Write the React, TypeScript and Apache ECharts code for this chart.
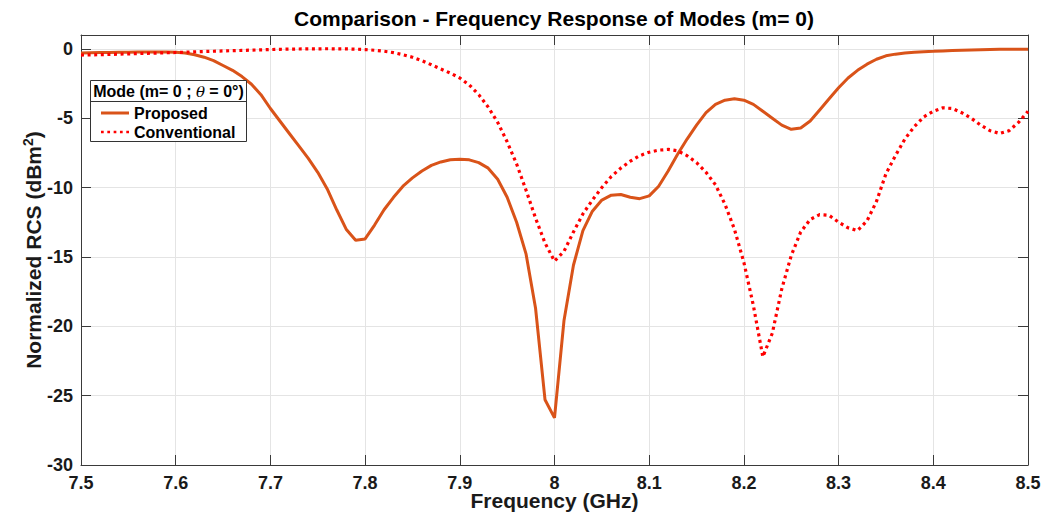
import React, { useEffect, useRef } from "react";
import * as echarts from "echarts";

const freq = [
  7.5, 7.51, 7.52, 7.53, 7.54, 7.55, 7.56, 7.57, 7.58, 7.59,
  7.6, 7.61, 7.62, 7.63, 7.64, 7.65, 7.66, 7.67, 7.68, 7.69,
  7.7, 7.71, 7.72, 7.73, 7.74, 7.75, 7.76, 7.77, 7.78, 7.79,
  7.8, 7.81, 7.82, 7.83, 7.84, 7.85, 7.86, 7.87, 7.88, 7.89,
  7.9, 7.91, 7.92, 7.93, 7.94, 7.95, 7.96, 7.97, 7.98, 7.99,
  8.0, 8.01, 8.02, 8.03, 8.04, 8.05, 8.06, 8.07, 8.08, 8.09,
  8.1, 8.11, 8.12, 8.13, 8.14, 8.15, 8.16, 8.17, 8.18, 8.19,
  8.2, 8.21, 8.22, 8.23, 8.24, 8.25, 8.26, 8.27, 8.28, 8.29,
  8.3, 8.31, 8.32, 8.33, 8.34, 8.35, 8.36, 8.37, 8.38, 8.39,
  8.4, 8.41, 8.42, 8.43, 8.44, 8.45, 8.46, 8.47, 8.48, 8.49,
  8.5,
];

const proposed = [
  -0.3, -0.28, -0.27, -0.26, -0.25, -0.24, -0.23, -0.22, -0.22, -0.22,
  -0.24, -0.3, -0.42, -0.6, -0.85, -1.2, -1.55, -2.0, -2.55, -3.3,
  -4.3, -5.2, -6.1, -7.0, -7.9, -8.9, -10.1, -11.6, -13.0, -13.8,
  -13.7, -12.7, -11.6, -10.7, -9.9, -9.3, -8.8, -8.4, -8.15, -8.0,
  -7.95, -8.0, -8.2, -8.6, -9.4, -10.7, -12.5, -14.8, -18.7, -25.3,
  -26.6, -19.6, -15.6, -13.1, -11.7, -10.9, -10.55, -10.5, -10.7, -10.8,
  -10.6, -9.9, -8.8, -7.6, -6.5, -5.5, -4.6, -4.0, -3.7, -3.6,
  -3.7, -4.0, -4.5, -5.0, -5.5, -5.8, -5.7, -5.2, -4.4, -3.6,
  -2.8, -2.1, -1.55, -1.1, -0.75, -0.5, -0.38, -0.3, -0.25, -0.2,
  -0.18, -0.15, -0.12, -0.1, -0.08, -0.06, -0.04, -0.03, -0.02, -0.02,
  -0.02,
];

const conventional = [
  -0.45, -0.43, -0.42, -0.4, -0.38, -0.36, -0.34, -0.32, -0.3, -0.28,
  -0.26, -0.24, -0.21, -0.19, -0.17, -0.15, -0.13, -0.11, -0.09, -0.07,
  -0.05, -0.03, -0.02, -0.01, 0, 0, 0.01, 0, 0, -0.02,
  -0.05, -0.1, -0.17, -0.27, -0.42, -0.6, -0.85, -1.15, -1.45, -1.75,
  -2.1, -2.6, -3.3, -4.2, -5.3, -6.7, -8.3, -10.2, -12.2, -14.0,
  -15.3, -14.6, -13.2, -11.9, -10.9, -10.0, -9.2, -8.6, -8.1, -7.7,
  -7.45, -7.3, -7.25, -7.35, -7.7, -8.2, -8.9, -9.8, -11.2, -13.0,
  -15.4, -18.5, -22.2, -20.5, -17.3, -14.9, -13.2, -12.3, -11.95, -12.0,
  -12.5, -12.9, -13.1, -12.4, -11.0, -9.0, -7.7, -6.5, -5.6, -4.9,
  -4.5, -4.25, -4.3, -4.6, -5.0, -5.5, -5.9, -6.1, -5.9, -5.3,
  -4.5,
];

const seriesNames = ["Proposed", "Conventional"];
const titleText = "Comparison - Frequency Response of Modes (m= 0)";
const xName = "Frequency (GHz)";

const FONT = "'Liberation Sans', Arial, Helvetica, sans-serif";
const TXT = "#1a1a1a";
const AXC = "#3a3a3a";
const GRIDC = "#e4e4e4";

export default function App() {
  const ref = useRef<HTMLDivElement>(null);
  useEffect(() => {
    if (!ref.current) return;
    document.body.style.margin = "0";
    const chart = echarts.init(ref.current, undefined, { renderer: "svg" });
    const pData = freq.map((f, i) => [f, proposed[i]]);
    const cData = freq.map((f, i) => [f, conventional[i]]);
    const xCommon = { type: "value" as const, min: 7.5, max: 8.5, interval: 0.1 };
    const yCommon = { type: "value" as const, min: -30, max: 1, interval: 5 };
    const axisLine = { show: true, onZero: false, lineStyle: { color: AXC, width: 1 } };
    const axisTick = { show: true, inside: true, length: 10, lineStyle: { color: AXC } };
    const option: any = {
      animation: false,
      backgroundColor: "#ffffff",
      textStyle: { fontFamily: FONT },
      title: {
        text: titleText,
        left: 554,
        textAlign: "center",
        top: 8,
        padding: 0,
        textStyle: { fontFamily: FONT, fontSize: 21, fontWeight: "bold", color: "#000" },
      },
      grid: {
        left: 81,
        right: 30,
        top: 35,
        bottom: 50,
        containLabel: false,
        outerBoundsMode: "none",
      },
      xAxis: [
        {
          ...xCommon,
          position: "bottom",
          name: xName,
          nameLocation: "middle",
          nameGap: 28,
          nameMoveOverlap: false,
          nameTextStyle: { fontFamily: FONT, fontSize: 21, fontWeight: "bold", color: TXT, lineHeight: 15 },
          axisLine,
          axisTick,
          axisLabel: {
            margin: 12,
            fontFamily: FONT,
            fontSize: 18,
            fontWeight: "bold",
            color: TXT,
            lineHeight: 12,
            formatter: (v: number) => String(Number(v.toFixed(2))),
          },
          splitLine: { show: true, lineStyle: { color: GRIDC, width: 1 } },
        },
        {
          ...xCommon,
          position: "top",
          axisLine,
          axisTick,
          axisLabel: { show: false },
          splitLine: { show: false },
        },
      ],
      yAxis: [
        {
          ...yCommon,
          position: "left",
          name: "{a|Normalized RCS (dBm}{s|2}{a|)}",
          nameLocation: "middle",
          nameGap: 36,
          nameMoveOverlap: false,
          nameTextStyle: {
            fontFamily: FONT,
            fontSize: 21,
            fontWeight: "bold",
            color: TXT,
            rich: {
              a: { fontFamily: FONT, fontSize: 21, fontWeight: "bold", color: TXT, lineHeight: 24 },
              s: {
                fontFamily: FONT,
                fontSize: 14,
                fontWeight: "bold",
                color: TXT,
                verticalAlign: "top",
                lineHeight: 24,
                padding: [0, 0, 10, 0],
              },
            },
          },
          axisLine,
          axisTick,
          axisLabel: {
            margin: 8,
            fontFamily: FONT,
            fontSize: 18,
            fontWeight: "bold",
            color: TXT,
            formatter: (v: number) => (v > 0 ? "" : String(v)),
          },
          splitLine: { show: true, lineStyle: { color: GRIDC, width: 1 } },
        },
        {
          ...yCommon,
          position: "right",
          axisLine,
          axisTick,
          axisLabel: { show: false },
          splitLine: { show: false },
        },
      ],
      legend: {
        data: [
          { name: seriesNames[0], icon: "rect" },
          {
            name: seriesNames[1],
            icon: "path://M0,0h3v3h-3zM7,0h3v3h-3zM14,0h3v3h-3zM21,0h3v3h-3zM28,0h3v3h-3z",
          },
        ],
        orient: "vertical",
        left: 101,
        top: 104,
        itemWidth: 28,
        itemHeight: 3,
        itemGap: 1,
        padding: 0,
        z: 6,
        textStyle: { fontFamily: FONT, fontSize: 16, fontWeight: "bold", color: "#000", lineHeight: 18 },
      },
      graphic: [
        {
          type: "rect",
          z: 5,
          shape: { x: 90.5, y: 80.5, width: 156, height: 61 },
          style: { fill: "#ffffff", stroke: "#333333", lineWidth: 1 },
        },
        {
          type: "line",
          z: 5,
          shape: { x1: 90.5, y1: 101.5, x2: 246.5, y2: 101.5 },
          style: { stroke: "#333333", lineWidth: 1 },
        },
        {
          type: "text",
          z: 6,
          x: 168.5,
          y: 91.5,
          style: {
            text: "{a|Mode (m= 0 ; }{t|θ}{a| = 0°)}",
            align: "center",
            verticalAlign: "middle",
            rich: {
              a: { fontFamily: FONT, fontSize: 16, fontWeight: "bold", fill: "#000" },
              t: { fontFamily: "'DejaVu Serif', 'Liberation Serif', serif", fontSize: 15, fontStyle: "italic", fill: "#000" },
            },
          },
        },
      ],
      series: [
        {
          name: seriesNames[0],
          type: "line",
          data: pData,
          symbol: "none",
          z: 3,
          lineStyle: { color: "#D95319", width: 3 },
          itemStyle: { color: "#D95319" },
        },
        {
          name: seriesNames[1],
          type: "line",
          data: cData,
          symbol: "none",
          z: 3,
          lineStyle: { color: "#FF0000", width: 3.2, type: [3, 3.6], cap: "butt" },
          itemStyle: { color: "#FF0000" },
        },
      ],
    };
    chart.setOption(option);
    return () => chart.dispose();
  }, []);
  return (
    <div
      ref={ref}
      style={{ position: "fixed", left: 0, top: 0, width: 1058, height: 515, background: "#fff" }}
    />
  );
}
